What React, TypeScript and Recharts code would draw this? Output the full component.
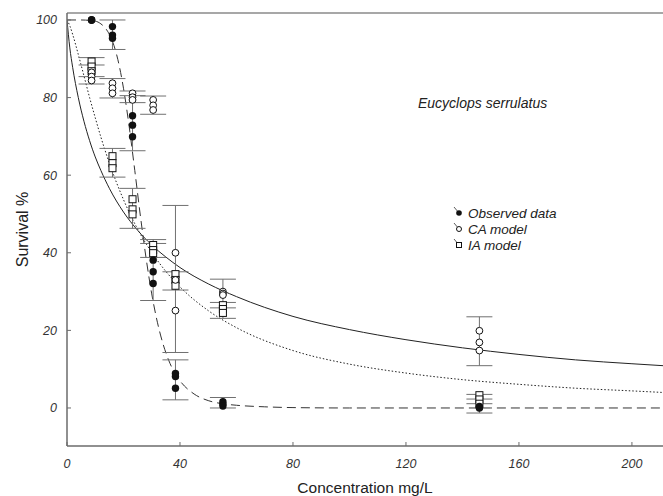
import { ComposedChart, ErrorBar, Line, ReferenceLine, Scatter, XAxis, YAxis } from 'recharts';

document.body.style.margin = '0';

const FONT = '"Liberation Sans", Arial, sans-serif';
const AXIS = '#6b6b6b';
const BAR = '#707070';

// exposure concentrations (mg/L)
const doses = [8.7, 16.1, 23.2, 30.5, 38.4, 55.2, 146];

// replicate survival (%) at each dose
const observedReps = [
  [100, 100, 100],
  [98.3, 96.1, 95.3],
  [75.3, 72.9, 69.9],
  [38.1, 35.1, 32.1],
  [8.9, 8.1, 5.1],
  [1.6, 1.0, 0.5],
  [0.4, 0.1, 0],
];
const caReps = [
  [86.5, 85.4, 84.4],
  [83.7, 82.4, 81.1],
  [81.1, 80.1, 79.4],
  [79.4, 78.0, 76.8],
  [40.0, 33.0, 25.1],
  [30.0, 29.5, 29.1],
  [19.9, 16.9, 14.8],
];
const iaReps = [
  [89.3, 88.0, 86.8],
  [64.9, 63.1, 61.8],
  [53.8, 51.2, 49.9],
  [42.0, 40.7, 39.9],
  [34.5, 33.0, 31.5],
  [26.5, 25.5, 24.5],
  [3.3, 2.2, 1.1],
];

// error bar caps [upper, lower]
const observedCaps = [[100, 100], [100, 92.4], [80.5, 66.3], [42.4, 27.7], [12.4, 2.1], [2.7, 0], [2.3, -1.3]];
const caCaps = [[88.4, 83.5], [84.9, 79.9], [81.7, 78.7], [80.4, 75.7], [52.2, 14.3], [33.2, 25.8], [23.5, 10.9]];
const iaCaps = [[90.3, 85.4], [66.9, 59.5], [56.6, 46.3], [43.4, 38.8], [35.1, 30.4], [27.2, 23.1], [3.5, 1.1]];

// fitted curves
const solidX = [0, 1, 2, 4, 6, 8, 10, 12, 15, 20, 25, 30, 35, 40, 50, 60, 80, 100, 120, 140, 160, 180, 200, 211];
const solidY = [100, 92.8, 87.8, 80.0, 73.9, 68.9, 64.7, 61.2, 56.6, 50.5, 45.8, 42.0, 38.9, 36.2, 32.0, 28.7, 23.6, 20.2, 17.6, 15.5, 13.8, 12.4, 11.4, 10.9];
const dottedX = [0, 1, 2, 4, 6, 8, 10, 12, 15, 20, 25, 30, 35, 40, 50, 60, 80, 100, 120, 140, 160, 180, 200, 211];
const dottedY = [100, 98.5, 96.3, 91.1, 85.6, 80.0, 74.8, 69.8, 63.1, 53.7, 46.1, 40.1, 35.2, 31.2, 25.1, 20.7, 14.8, 11.3, 9.0, 7.3, 6.1, 5.1, 4.4, 4.0];
const dashedX = [0, 5, 10, 12, 14, 16, 18, 20, 22, 24, 26, 28, 30, 32, 34, 36, 38, 40, 45, 50, 55, 60, 70, 80, 100, 150, 211];
const dashedY = [100, 100, 99.7, 99.0, 97.5, 94.7, 89.8, 82.4, 72.6, 61.2, 49.4, 38.6, 29.4, 22.1, 16.5, 12.3, 9.2, 7.0, 3.6, 1.9, 1.1, 0.7, 0.3, 0.1, 0, 0, 0];

const xTicks = [0, 40, 80, 120, 160, 200];
const yTicks = [0, 20, 40, 60, 80, 100];
const X_DOMAIN: [number, number] = [0, 211];
const Y_DOMAIN: [number, number] = [-9.8, 101.8];

const curve = (xs: number[], ys: number[]) => xs.map((x, i) => ({ x, y: ys[i] }));
const points = (reps: number[][]) =>
  reps.flatMap((vals, i) => vals.map((y) => ({ x: doses[i], y })));
const bars = (caps: number[][]) =>
  caps.map(([hi, lo], i) => ({ x: doses[i], y: (hi + lo) / 2, err: (hi - lo) / 2 }));

const errorData = [...bars(observedCaps), ...bars(caCaps), ...bars(iaCaps)];

const FilledDot = ({ cx, cy }: any) => <circle cx={cx} cy={cy} r={3.7} fill="#111" />;
const OpenDot = ({ cx, cy }: any) => (
  <circle cx={cx} cy={cy} r={3.4} fill="#fff" stroke="#111" strokeWidth={1} />
);
const SquareDot = ({ cx, cy }: any) => (
  <rect x={cx - 3.5} y={cy - 3.5} width={7} height={7} fill="#fff" stroke="#111" strokeWidth={1} />
);

function YTick({ x, y, payload }: any) {
  return (
    <g>
      <line x1={x + 8} x2={x + 12} y1={y} y2={y} stroke={AXIS} />
      <text x={x - 2} y={y} dy={4.5} textAnchor="end" fontFamily={FONT} fontStyle="italic" fontSize={12.5} fill="#333">
        {payload.value}
      </text>
    </g>
  );
}

function XTick({ x, y, payload }: any) {
  return (
    <g>
      <line x1={x} x2={x} y1={y - 8} y2={y - 12} stroke={AXIS} />
      <text x={x} y={y + 14} textAnchor="middle" fontFamily={FONT} fontStyle="italic" fontSize={12.5} fill="#333">
        {payload.value}
      </text>
    </g>
  );
}

const legendItems = [
  { label: 'Observed data', kind: 'filled' },
  { label: 'CA model', kind: 'open' },
  { label: 'IA model', kind: 'square' },
];

export default function App() {
  return (
    <div style={{ position: 'relative', width: 663, height: 496, background: '#fff' }}>
      <ComposedChart width={663} height={496} margin={{ top: 13, right: 0, bottom: 0, left: 0 }}>
        <XAxis
          type="number"
          dataKey="x"
          domain={X_DOMAIN}
          ticks={xTicks}
          allowDataOverflow
          height={50}
          stroke={AXIS}
          strokeWidth={1.5}
          tickLine={false}
          tick={<XTick />}
          label={{
            value: 'Concentration mg/L',
            position: 'insideBottom',
            offset: 3,
            style: { fontFamily: FONT, fontSize: 15.5, fill: '#222' },
          }}
        />
        <YAxis
          type="number"
          dataKey="y"
          domain={Y_DOMAIN}
          ticks={yTicks}
          allowDataOverflow
          width={67}
          stroke={AXIS}
          strokeWidth={1.5}
          tickLine={false}
          tick={<YTick />}
          label={{
            content: () => (
              <text
                x={22}
                y={229.5}
                transform="rotate(-90 22 229.5)"
                textAnchor="middle"
                dominantBaseline="central"
                fontFamily={FONT}
                fontSize={16}
                fill="#222"
              >
                Survival %
              </text>
            ),
          }}
        />
        <ReferenceLine y={Y_DOMAIN[1]} stroke="#8a8a8a" strokeWidth={1.5} />
        <Line data={curve(solidX, solidY)} dataKey="y" type="monotone" stroke="#222" strokeWidth={1} dot={false} isAnimationActive={false} />
        <Line data={curve(dottedX, dottedY)} dataKey="y" type="monotone" stroke="#222" strokeWidth={1} strokeDasharray="1.5 2" dot={false} isAnimationActive={false} />
        <Line data={curve(dashedX, dashedY)} dataKey="y" type="monotone" stroke="#333" strokeWidth={1} strokeDasharray="9 5" dot={false} isAnimationActive={false} />
        <Scatter data={errorData} shape={() => <g />} isAnimationActive={false}>
          <ErrorBar dataKey="err" direction="y" width={13} stroke={BAR} strokeWidth={1} isAnimationActive={false} />
        </Scatter>
        <Scatter data={points(iaReps)} shape={<SquareDot />} isAnimationActive={false} />
        <Scatter data={points(caReps)} shape={<OpenDot />} isAnimationActive={false} />
        <Scatter data={points(observedReps)} shape={<FilledDot />} isAnimationActive={false} />
      </ComposedChart>
      <svg width={663} height={496} style={{ position: 'absolute', left: 0, top: 0, pointerEvents: 'none' }}>
        <text x={418} y={108} fontFamily={FONT} fontStyle="italic" fontSize={14} fill="#222">
          Eucyclops serrulatus
        </text>
        {legendItems.map((item, i) => {
          const cy = 213 + i * 16;
          return (
            <g key={item.label}>
              <line x1={454} y1={cy - 6} x2={459} y2={cy} stroke="#333" strokeWidth={0.8} />
              {item.kind === 'filled' && <circle cx={459} cy={cy} r={2.8} fill="#111" />}
              {item.kind === 'open' && <circle cx={459} cy={cy} r={2.5} fill="#fff" stroke="#111" />}
              {item.kind === 'square' && <rect x={456.5} y={cy - 2.5} width={5} height={5} fill="#fff" stroke="#111" />}
              <text x={468} y={cy + 5} fontFamily={FONT} fontStyle="italic" fontSize={13.5} fill="#222">
                {item.label}
              </text>
            </g>
          );
        })}
      </svg>
    </div>
  );
}
